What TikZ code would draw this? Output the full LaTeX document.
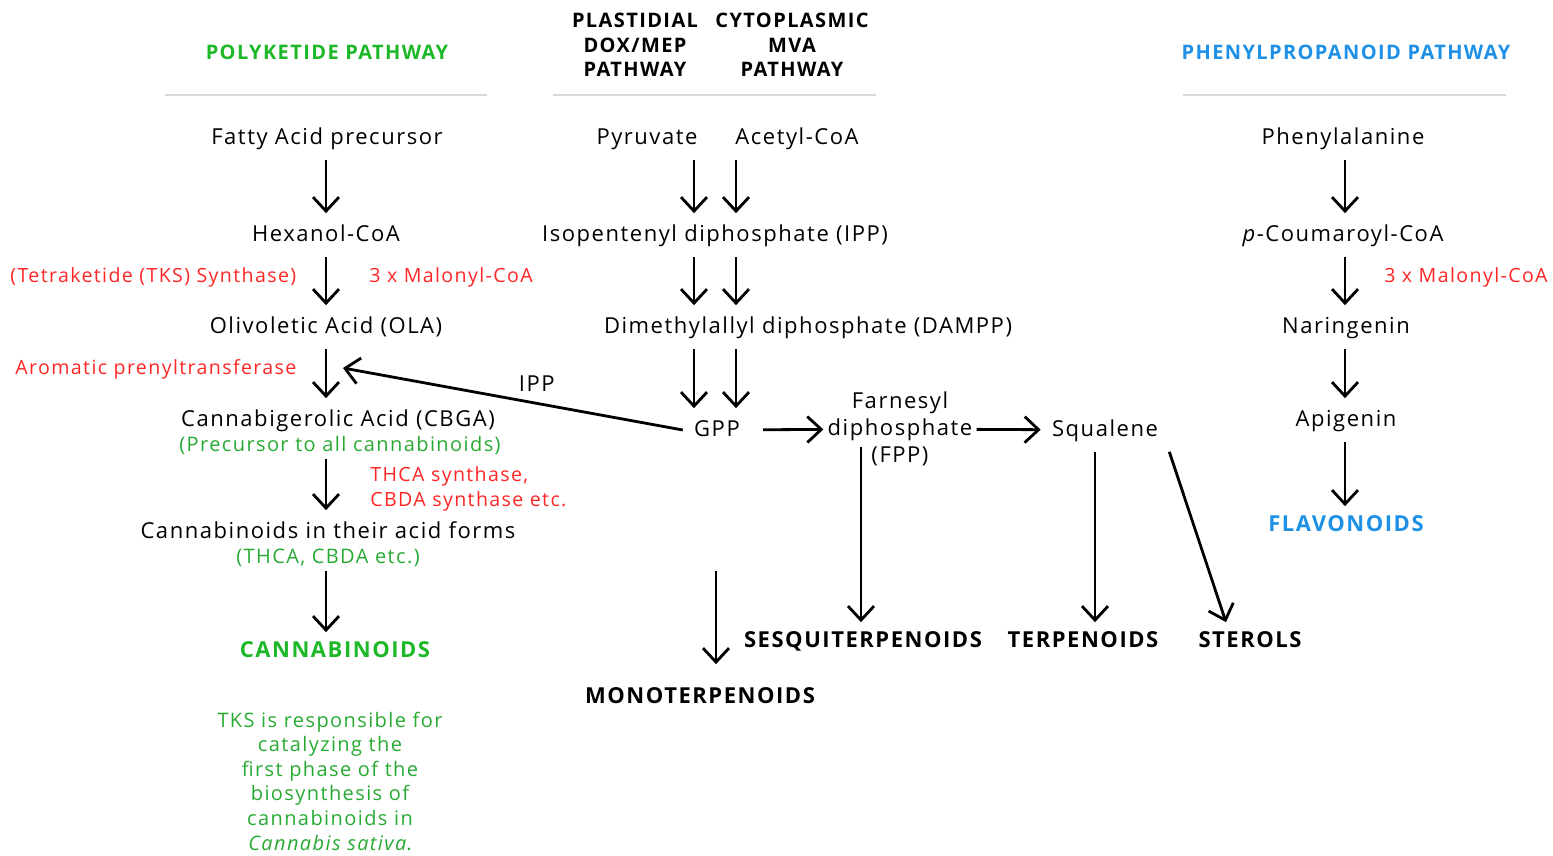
\documentclass[tikz,border=0pt]{standalone}
\usepackage{fontspec}
\setmainfont{Open Sans}[LetterSpace=7]
\usetikzlibrary{arrows.meta}
\definecolor{pkgreen}{RGB}{28,184,40}
\definecolor{notegreen}{RGB}{40,170,50}
\definecolor{enzred}{RGB}{255,38,38}
\definecolor{ppblue}{RGB}{30,144,230}
\definecolor{rulegray}{RGB}{217,217,217}

\begin{document}
\begin{tikzpicture}[x=0.5pt, y=-0.5pt,
            every node/.style = {font=\fontsize{11}{13.5}\selectfont, inner sep=2pt},
            cpd/.style = {text height=1.55ex, text depth=.4ex, inner sep=5.5pt},
            enzyme/.style = {text=enzred, font=\fontsize{9.8}{12.3}\selectfont},
            remark/.style = {text=notegreen, font=\fontsize{10}{12.3}\selectfont},
            header/.style = {font=\fontsize{10}{12.25}\selectfont\bfseries, align=center},
            product/.style = {font=\fontsize{11}{13}\selectfont\bfseries, text height=1.55ex, text depth=.4ex, inner sep=4pt},
            divider/.style = {draw=rulegray, line width=1pt},
            arr/.style = {-{Straight Barb[length=7pt, width=13pt]}, line width=1.4pt}]
            \useasboundingbox (0,0) rectangle (1553,856);
            \node[header, text=pkgreen] (polyhead) at (327,52) {POLYKETIDE PATHWAY};
            \node[header] (plashead) at (635,45) {PLASTIDIAL\\DOX/MEP\\PATHWAY};
            \node[header] (cytohead) at (792,45) {CYTOPLASMIC\\MVA\\PATHWAY};
            \node[header, text=ppblue] (phenhead) at (1346,52) {PHENYLPROPANOID PATHWAY};
            \draw[divider] (165,95) -- (487,95);
            \draw[divider] (553,95) -- (876,95);
            \draw[divider] (1183,95) -- (1506,95);

            \node[cpd] (fatty) at (327,138) {Fatty Acid precursor};
            \node[cpd] (hexanol) at (326,235) {Hexanol-CoA};
            \node[cpd] (ola) at (326,327) {Olivoletic Acid (OLA)};
            \node[cpd] (cbga) at (338,420) {Cannabigerolic Acid (CBGA)};
            \node[remark] (precursor) at (340,445) {(Precursor to all cannabinoids)};
            \node[cpd] (acidforms) at (328,532) {Cannabinoids in their acid forms};
            \node[remark] (acidlist) at (328,558) {(THCA, CBDA etc.)};
            \node[product, text=pkgreen] (cannabinoids) at (335,651) {CANNABINOIDS};
            \node[remark, align=center] (tksnote) at (330,781) {TKS is responsible for\\catalyzing the\\first phase of the\\biosynthesis of\\cannabinoids in\\\textit{Cannabis sativa}.};
            \node[enzyme, anchor=west] (tks) at (6,277) {(Tetraketide (TKS) Synthase)};
            \node[enzyme] (malonyla) at (451,277) {3 x Malonyl-CoA};
            \node[enzyme, anchor=west] (prenyl) at (11,369) {Aromatic prenyltransferase};
            \node[enzyme, anchor=west, align=left] (synthase) at (366,489) {THCA synthase,\\CBDA synthase etc.};
            \coordinate (polyaxis) at (326,0);
            \draw[arr] (fatty.south -| polyaxis) -- (hexanol.north -| polyaxis);
            \draw[arr] (hexanol.south -| polyaxis) -- (ola.north -| polyaxis);
            \draw[arr] (ola.south -| polyaxis) -- (cbga.north -| polyaxis);
            \draw[arr] (precursor.south -| polyaxis) -- (acidforms.north -| polyaxis);
            \draw[arr] (acidlist.south -| polyaxis) -- (cannabinoids.north -| polyaxis);

            \node[cpd] (pyruvate) at (647,138) {Pyruvate};
            \node[cpd] (acetyl) at (797,138) {Acetyl-CoA};
            \node[cpd] (ipp) at (715,235) {Isopentenyl diphosphate (IPP)};
            \node[cpd] (dampp) at (808,327) {Dimethylallyl diphosphate (DAMPP)};
            \node[cpd] (gpp) at (717,430) {GPP};
            \node[align=center] (fpp) at (900,429) {Farnesyl\\diphosphate\\(FPP)};
            \node[cpd] (squalene) at (1105,430) {Squalene};
            \node[product] (mono) at (700,697) {MONOTERPENOIDS};
            \node[product] (sesqui) at (863,641) {SESQUITERPENOIDS};
            \node[product] (terpenoids) at (1083,641) {TERPENOIDS};
            \node[product] (sterols) at (1250,641) {STEROLS};
            \coordinate (dox) at (694,0);
            \coordinate (mva) at (736,0);
            \coordinate (ippin) at (343,368);
            \coordinate (monotail) at (716,571);
            \coordinate (fpptail) at (861,447);
            \coordinate (terpaxis) at (1095,0);
            \draw[arr] (pyruvate.south -| dox) -- (ipp.north -| dox);
            \draw[arr] (acetyl.south -| mva) -- (ipp.north -| mva);
            \draw[arr] (ipp.south -| dox) -- (dampp.north -| dox);
            \draw[arr] (ipp.south -| mva) -- (dampp.north -| mva);
            \draw[arr] (dampp.south -| dox) -- (gpp.north -| dox);
            \draw[arr] (dampp.south -| mva) -- (gpp.north -| mva);
            \draw[arr] (gpp.west) -- node[pos=.43, above=3pt] (ipplabel) {IPP} (ippin);
            \draw[arr, shorten <=6pt] (gpp) -- (fpp);
            \draw[arr] (fpp) -- (squalene);
            \draw[arr] (fpptail) -- (fpptail |- sesqui.north);
            \draw[arr] (squalene.south -| terpaxis) -- (terpenoids.north -| terpaxis);
            \draw[arr] (squalene.south east) -- ([xshift=-12pt]sterols.north);
            \draw[arr, shorten >=7pt] (monotail) -- (monotail |- mono.north);

            \node[cpd] (phe) at (1343,138) {Phenylalanine};
            \node[cpd] (coumaroyl) at (1343,235) {\textit{p}-Coumaroyl-CoA};
            \node[cpd] (naringenin) at (1346,327) {Naringenin};
            \node[cpd] (apigenin) at (1346,420) {Apigenin};
            \node[product, text=ppblue] (flavonoids) at (1346,525) {FLAVONOIDS};
            \node[enzyme, anchor=east] (malonylb) at (1552,277) {3 x Malonyl-CoA};
            \coordinate (phenaxis) at (1345,0);
            \draw[arr] (phe.south -| phenaxis) -- (coumaroyl.north -| phenaxis);
            \draw[arr] (coumaroyl.south -| phenaxis) -- (naringenin.north -| phenaxis);
            \draw[arr] (naringenin.south -| phenaxis) -- (apigenin.north -| phenaxis);
            \draw[arr] (apigenin.south -| phenaxis) -- (flavonoids.north -| phenaxis);
\end{tikzpicture}
\end{document}
